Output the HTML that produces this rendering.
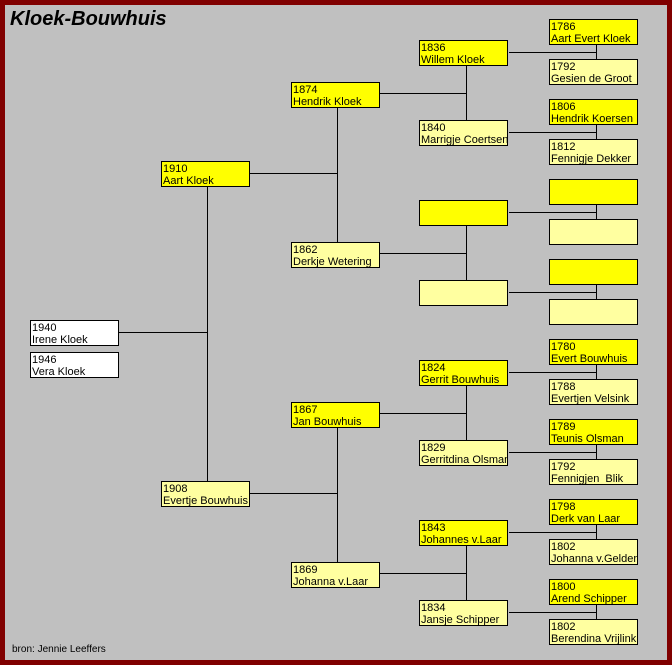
<!DOCTYPE html>
<html><head><meta charset="utf-8"><style>
html,body{margin:0;padding:0}
body{width:672px;height:665px;position:relative;background:#800000;overflow:hidden;font-family:"Liberation Sans",Arial,sans-serif}
#bg{position:absolute;left:5px;top:5px;width:662px;height:655px;background:#c0c0c0}
.b{position:absolute;width:86px;height:23px;border:1px solid #000;font-size:11px;line-height:12px;padding:1px 0 0 1px;box-sizing:content-box;white-space:nowrap;overflow:hidden;color:#000}
.m{background:#ffff00}.f{background:#ffffa0}.w{background:#fff}
.h{position:absolute;height:1px;background:#000}
.v{position:absolute;width:1px;background:#000}
#t{position:absolute;left:10px;top:8px;font-size:20px;font-weight:bold;font-style:italic}
#s{position:absolute;left:12px;top:644px;font-size:10px}
</style></head><body>
<div id="bg"></div>
<div id="t">Kloek-Bouwhuis</div>
<div id="s">bron: Jennie Leeffers</div>

<div class="h" style="left:119px;top:332px;width:88px"></div>
<div class="v" style="left:207px;top:187px;height:294px"></div>
<div class="h" style="left:250px;top:173px;width:87px"></div>
<div class="h" style="left:250px;top:493px;width:87px"></div>
<div class="v" style="left:337px;top:108px;height:134px"></div>
<div class="v" style="left:337px;top:428px;height:134px"></div>
<div class="h" style="left:380px;top:93px;width:86px"></div>
<div class="h" style="left:380px;top:253px;width:86px"></div>
<div class="h" style="left:380px;top:413px;width:86px"></div>
<div class="h" style="left:380px;top:573px;width:86px"></div>
<div class="v" style="left:466px;top:66px;height:54px"></div>
<div class="v" style="left:466px;top:226px;height:54px"></div>
<div class="v" style="left:466px;top:386px;height:54px"></div>
<div class="v" style="left:466px;top:546px;height:54px"></div>
<div class="h" style="left:509px;top:52px;width:87px"></div>
<div class="h" style="left:509px;top:132px;width:87px"></div>
<div class="h" style="left:509px;top:212px;width:87px"></div>
<div class="h" style="left:509px;top:292px;width:87px"></div>
<div class="h" style="left:509px;top:372px;width:87px"></div>
<div class="h" style="left:509px;top:452px;width:87px"></div>
<div class="h" style="left:509px;top:532px;width:87px"></div>
<div class="h" style="left:509px;top:612px;width:87px"></div>
<div class="v" style="left:596px;top:45px;height:14px"></div>
<div class="v" style="left:596px;top:125px;height:14px"></div>
<div class="v" style="left:596px;top:205px;height:14px"></div>
<div class="v" style="left:596px;top:285px;height:14px"></div>
<div class="v" style="left:596px;top:365px;height:14px"></div>
<div class="v" style="left:596px;top:445px;height:14px"></div>
<div class="v" style="left:596px;top:525px;height:14px"></div>
<div class="v" style="left:596px;top:605px;height:14px"></div>

<div class="b w" style="left:30px;top:320px">1940<br>Irene Kloek</div>
<div class="b w" style="left:30px;top:352px">1946<br>Vera Kloek</div>

<div class="b m" style="left:161px;top:161px">1910<br>Aart Kloek</div>
<div class="b f" style="left:161px;top:481px">1908<br>Evertje Bouwhuis</div>

<div class="b m" style="left:291px;top:82px">1874<br>Hendrik Kloek</div>
<div class="b f" style="left:291px;top:242px">1862<br>Derkje Wetering</div>
<div class="b m" style="left:291px;top:402px">1867<br>Jan Bouwhuis</div>
<div class="b f" style="left:291px;top:562px">1869<br>Johanna v.Laar</div>

<div class="b m" style="left:419px;top:40px">1836<br>Willem Kloek</div>
<div class="b f" style="left:419px;top:120px">1840<br>Marrigje Coertsen</div>
<div class="b m" style="left:419px;top:200px"></div>
<div class="b f" style="left:419px;top:280px"></div>
<div class="b m" style="left:419px;top:360px">1824<br>Gerrit Bouwhuis</div>
<div class="b f" style="left:419px;top:440px">1829<br>Gerritdina Olsman</div>
<div class="b m" style="left:419px;top:520px">1843<br>Johannes v.Laar</div>
<div class="b f" style="left:419px;top:600px">1834<br>Jansje Schipper</div>

<div class="b m" style="left:549px;top:19px">1786<br>Aart Evert Kloek</div>
<div class="b f" style="left:549px;top:59px">1792<br>Gesien de Groot</div>
<div class="b m" style="left:549px;top:99px">1806<br>Hendrik Koersen</div>
<div class="b f" style="left:549px;top:139px">1812<br>Fennigje Dekker</div>
<div class="b m" style="left:549px;top:179px"></div>
<div class="b f" style="left:549px;top:219px"></div>
<div class="b m" style="left:549px;top:259px"></div>
<div class="b f" style="left:549px;top:299px"></div>
<div class="b m" style="left:549px;top:339px">1780<br>Evert Bouwhuis</div>
<div class="b f" style="left:549px;top:379px">1788<br>Evertjen Velsink</div>
<div class="b m" style="left:549px;top:419px">1789<br>Teunis Olsman</div>
<div class="b f" style="left:549px;top:459px">1792<br>Fennigjen &nbsp;Blik</div>
<div class="b m" style="left:549px;top:499px">1798<br>Derk van Laar</div>
<div class="b f" style="left:549px;top:539px">1802<br>Johanna v.Gelder</div>
<div class="b m" style="left:549px;top:579px">1800<br>Arend Schipper</div>
<div class="b f" style="left:549px;top:619px">1802<br>Berendina Vrijlink</div>
</body></html>
